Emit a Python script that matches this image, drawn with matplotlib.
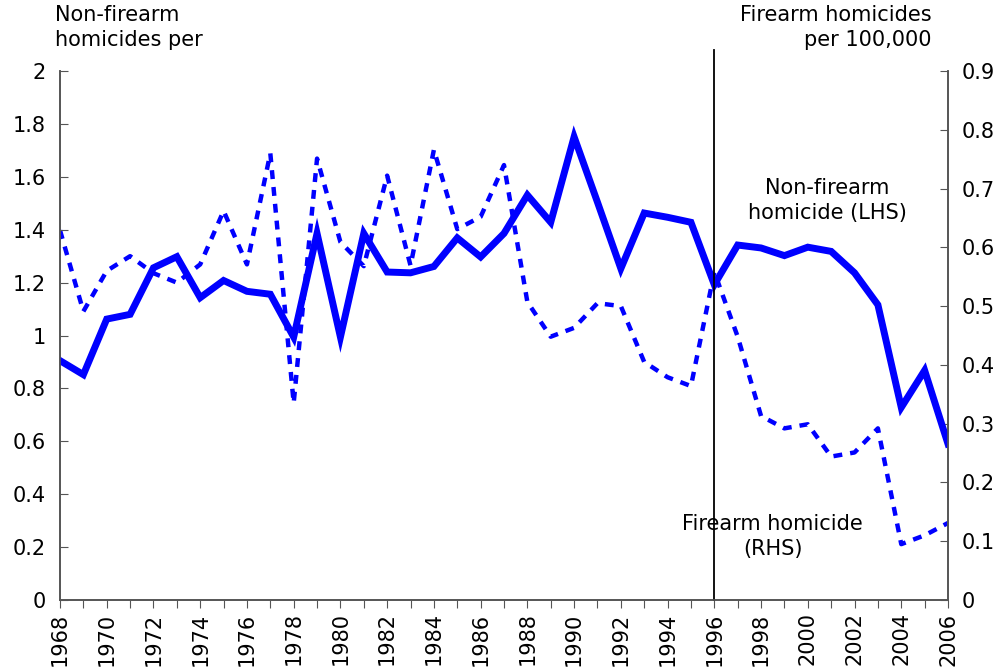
import numpy as np
import matplotlib
matplotlib.use("Agg")
import matplotlib.pyplot as plt

plt.rcParams['font.family'] = ['DejaVu Sans']

# data
years = list(range(1968, 2007))
non_firearm = [0.905, 0.852, 1.062, 1.080, 1.256, 1.298, 1.143, 1.208, 1.167, 1.156,
               0.994, 1.386, 0.994, 1.386, 1.240, 1.237, 1.261, 1.369, 1.297, 1.386,
               1.531, 1.428, 1.751, 1.504, 1.253, 1.463, 1.447, 1.428, 1.192, 1.342,
               1.331, 1.302, 1.334, 1.318, 1.237, 1.116, 0.728, 0.868, 0.590]
firearm = [0.629, 0.491, 0.560, 0.585, 0.556, 0.540, 0.571, 0.662, 0.571, 0.760,
           0.335, 0.751, 0.609, 0.568, 0.722, 0.569, 0.766, 0.631, 0.652, 0.740,
           0.507, 0.448, 0.463, 0.505, 0.500, 0.405, 0.379, 0.364, 0.558, 0.448,
           0.313, 0.292, 0.299, 0.244, 0.251, 0.292, 0.095, 0.110, 0.131]
left_ticks = [0, 0.2, 0.4, 0.6, 0.8, 1, 1.2, 1.4, 1.6, 1.8, 2]
right_ticks = [0, 0.1, 0.2, 0.3, 0.4, 0.5, 0.6, 0.7, 0.8, 0.9]

fs = 15
blue = '#0000ff'

fig = plt.figure(figsize=(10, 6.7), dpi=100)
ax = fig.add_axes([0.06, 0.1045, 0.888, 0.7895])
ax2 = ax.twinx()

ax2.plot(years, firearm, color=blue, lw=3.2, linestyle=(0, (2.0, 1.8)), solid_capstyle='butt')
ax.plot(years, non_firearm, color=blue, lw=5.0, solid_joinstyle='miter')
ax.set_zorder(ax2.get_zorder() + 1)
ax.patch.set_visible(False)

ax.set_xlim(1968, 2006)
ax.set_ylim(0, 2)
ax2.set_ylim(0, 0.9)

ax.set_yticks(left_ticks)
ax.set_yticklabels(['0', '0.2', '0.4', '0.6', '0.8', '1', '1.2', '1.4', '1.6', '1.8', '2'])
ax2.set_yticks(right_ticks)
ax2.set_yticklabels(['0', '0.1', '0.2', '0.3', '0.4', '0.5', '0.6', '0.7', '0.8', '0.9'])
ax.set_xticks(years)
ax.set_xticklabels([str(y) if y % 2 == 0 else '' for y in years], rotation=90)

for a in (ax, ax2):
    a.spines['top'].set_visible(False)
    for s in a.spines.values():
        s.set_color('#555555')
        s.set_linewidth(1.2)
ax.tick_params(axis='y', direction='in', length=6, labelsize=fs, pad=10, color='#555555')
ax2.tick_params(axis='y', direction='in', length=6, labelsize=fs, pad=10, color='#555555')
ax.tick_params(axis='x', direction='out', length=6, labelsize=fs, pad=3, color='#555555')

# vertical marker at 1996
ax.axvline(1996, ymin=0, ymax=1.04, color='black', lw=1.3, clip_on=False)

fig.text(0.055, 0.925, 'Non-firearm\nhomicides per', fontsize=fs, ha='left', va='bottom', linespacing=1.3)
fig.text(0.932, 0.925, 'Firearm homicides\nper 100,000', fontsize=fs, ha='right', va='bottom', linespacing=1.3)
ax.text(2000.85, 1.51, 'Non-firearm\nhomicide (LHS)', fontsize=fs, ha='center', va='center', linespacing=1.3)
ax.text(1998.5, 0.24, 'Firearm homicide\n(RHS)', fontsize=fs, ha='center', va='center', linespacing=1.3)

plt.savefig('out.png', dpi=100)
